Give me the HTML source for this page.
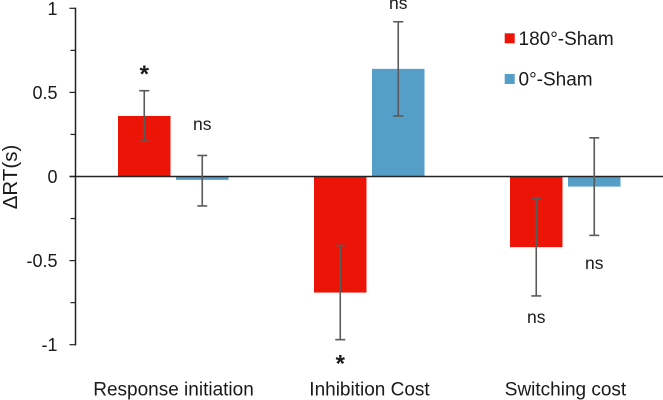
<!DOCTYPE html>
<html>
<head>
<meta charset="utf-8">
<style>
html,body{margin:0;padding:0;background:#fff;width:663px;height:400px;overflow:hidden}
svg{display:block;filter:blur(0.3px)}
text{font-family:"Liberation Sans",Arial,sans-serif;fill:#1a1a1a}
</style>
</head>
<body>
<svg id="chart" width="663" height="400" viewBox="0 0 663 400" xmlns="http://www.w3.org/2000/svg"></svg>
<script>
const categories = ["Response initiation", "Inhibition Cost", "Switching cost"];
const seriesNames = ["180°-Sham", "0°-Sham"];
const values180 = [0.36, -0.69, -0.42];
const values0 = [-0.02, 0.64, -0.06];
const errTop180 = [0.51, -0.41, -0.13];
const errBottom180 = [0.21, -0.97, -0.71];
const errTop0 = [0.125, 0.92, 0.23];
const errBottom0 = [-0.175, 0.36, -0.35];
const labels180 = ["*", "*", "ns"];
const labels0 = ["ns", "ns", "ns"];
const labelValues180 = [0.615, -1.105, -0.84];
const labelValues0 = [0.306, 1.026, -0.52];
const tickValues = [1, 0.5, 0, -0.5, -1];
const minorTickValues = [0.75, 0.25, -0.25, -0.75];
const tickLabels = ["1", "0.5", "0", "-0.5", "-1"];

const svg = document.getElementById('chart');
const NS = 'http://www.w3.org/2000/svg';
const RED = '#ec1307';
const BLUE = '#559ec7';
const yScale = v => 176.5 - v * 168.2;
const axisX = 75.5;
const groupStep = 196;
const groupCenter = i => axisX + groupStep * (i + 0.5);
const BAR_W = 52.5;

function make(tag, attrs, text) {
  const el = document.createElementNS(NS, tag);
  for (const k in attrs) el.setAttribute(k, attrs[k]);
  if (text !== undefined) el.textContent = text;
  svg.appendChild(el);
  return el;
}

function drawBar(value, x, color) {
  const y0 = yScale(0), y1 = yScale(value);
  return make('rect', {x: x, y: Math.min(y0, y1), width: BAR_W, height: Math.abs(y1 - y0), fill: color});
}

function drawError(top, bottom, cx) {
  const group = [];
  const stroke = {stroke: '#5a5a5a', 'stroke-width': 1.6};
  group.push(make('line', Object.assign({x1: cx, x2: cx, y1: yScale(top), y2: yScale(bottom)}, stroke)));
  group.push(make('line', Object.assign({x1: cx - 5, x2: cx + 5, y1: yScale(top), y2: yScale(top)}, stroke)));
  group.push(make('line', Object.assign({x1: cx - 5, x2: cx + 5, y1: yScale(bottom), y2: yScale(bottom)}, stroke)));
  return group;
}

categories.forEach((cat, i) => {
  const c = groupCenter(i);
  const xRed = c - 55.5, xBlue = c + 2.5;
  const barRed = drawBar(values180[i], xRed, RED);
  
  
  const barBlue = drawBar(values0[i], xBlue, BLUE);
  
  
});

// x axis baseline
const baseline = make('line', {x1: axisX - 6, x2: 663, y1: yScale(0), y2: yScale(0), stroke: '#222', 'stroke-width': 1.4});



categories.forEach((cat, i) => {
  const c = groupCenter(i);
  const cxRed = c - 55.5 + BAR_W / 2, cxBlue = c + 2.5 + BAR_W / 2;
  drawError(errTop180[i], errBottom180[i], cxRed).forEach(el => {
    
    
  });
  drawError(errTop0[i], errBottom0[i], cxBlue).forEach(el => {
    
    
  });
  const isStar = labels180[i] === '*';
  const sigRed = make('text', {x: cxRed, y: yScale(labelValues180[i]) + (isStar ? 9 : 5), 'text-anchor': 'middle', 'font-size': isStar ? 24 : 17.5, 'font-weight': isStar ? 'bold' : 'normal'}, labels180[i]);
  
  
  const sigBlue = make('text', {x: cxBlue, y: yScale(labelValues0[i]) + 5, 'text-anchor': 'middle', 'font-size': 17.5}, labels0[i]);
  
  
  const catLabel = make('text', {x: c, y: 395.5, 'text-anchor': 'middle', 'font-size': 19}, cat);
  
  
});

// y axis
const yAxis = make('line', {x1: axisX, x2: axisX, y1: yScale(1) - 0.7, y2: yScale(-1) + 0.7, stroke: '#222', 'stroke-width': 1.5});



tickValues.forEach((v, i) => {
  const tick = make('line', {x1: axisX - 6, x2: axisX, y1: yScale(v), y2: yScale(v), stroke: '#222', 'stroke-width': 1.2});
  
  
  const label = make('text', {x: 57.5, y: yScale(v) + 6.5, 'text-anchor': 'end', 'font-size': 18}, tickLabels[i]);
  
  
});
minorTickValues.forEach(v => {
  const tick = make('line', {x1: axisX - 5, x2: axisX, y1: yScale(v), y2: yScale(v), stroke: '#222', 'stroke-width': 1.2});
  
  
});

const yTitle = make('text', {x: 0, y: 0, transform: 'translate(17,177) rotate(-90)', 'text-anchor': 'middle', 'font-size': 20.5}, 'ΔRT(s)');



// legend
const legendColors = [RED, BLUE];
seriesNames.forEach((name, i) => {
  const y = 38.3 + i * 40.7;
  const swatch = make('rect', {x: 504.7, y: y - 5, width: 10, height: 10, fill: legendColors[i]});
  
  
  const label = make('text', {x: 518.5, y: y + 6.7, 'font-size': 19}, name);
  
  
});
</script>
</body>
</html>
